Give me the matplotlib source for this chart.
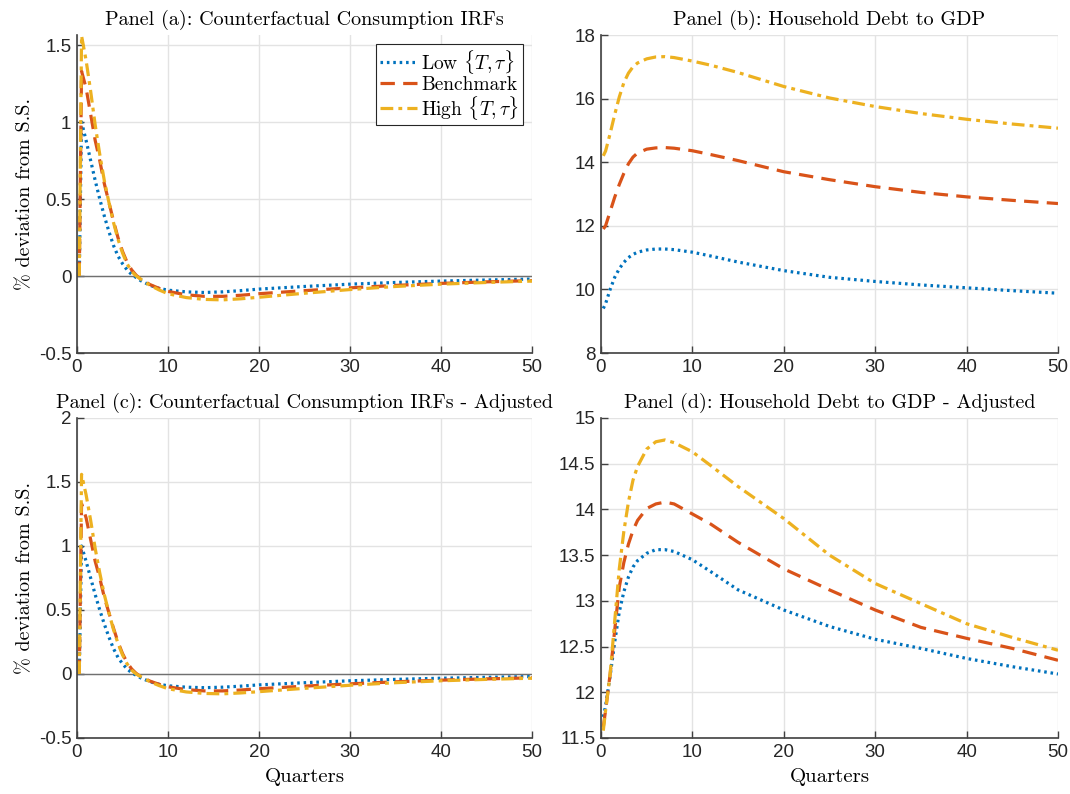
import matplotlib
matplotlib.use('Agg')
import matplotlib.pyplot as plt
import numpy as np

plt.rcParams['mathtext.fontset'] = 'cm'
plt.rcParams['axes.unicode_minus'] = False

# consumption IRFs (quarters after the shock)
q_irf = [0.25, 0.5, 1, 1.5, 2, 2.5, 3, 3.5, 4, 4.5, 5, 5.5, 6, 6.5, 7, 8, 9, 10,
         12, 14, 16, 18, 20, 25, 30, 35, 40, 45, 50]
irf_low = [0, 1.0, 0.88, 0.75, 0.62, 0.50, 0.39, 0.29, 0.20, 0.13, 0.08, 0.04, 0.01,
           -0.01, -0.03, -0.06, -0.08, -0.092, -0.103, -0.107, -0.103, -0.095, -0.085,
           -0.068, -0.053, -0.042, -0.033, -0.026, -0.02]
irf_bench = [0, 1.33, 1.22, 1.05, 0.88, 0.75, 0.60, 0.48, 0.36, 0.25, 0.16, 0.09, 0.04,
             0.005, -0.02, -0.055, -0.08, -0.10, -0.122, -0.132, -0.132, -0.125, -0.115,
             -0.095, -0.077, -0.061, -0.048, -0.038, -0.03]
irf_high = [0, 1.56, 1.40, 1.20, 0.98, 0.79, 0.62, 0.48, 0.35, 0.24, 0.15, 0.08, 0.03,
            0.0, -0.02, -0.06, -0.09, -0.115, -0.14, -0.152, -0.155, -0.148, -0.138,
            -0.112, -0.088, -0.068, -0.053, -0.042, -0.033]

# household debt to GDP
q_debt = [0.25, 0.5, 1, 1.5, 2, 2.5, 3, 3.5, 4, 5, 6, 7, 8, 10, 12, 15, 20, 25, 30,
          35, 40, 45, 50]
debt_low = [9.4, 9.55, 10.0, 10.38, 10.65, 10.85, 11.0, 11.1, 11.17, 11.24, 11.27,
            11.27, 11.25, 11.17, 11.05, 10.86, 10.59, 10.38, 10.25, 10.14, 10.05,
            9.96, 9.88]
debt_bench = [11.9, 12.0, 12.45, 12.9, 13.3, 13.65, 13.95, 14.16, 14.29, 14.41, 14.45,
              14.46, 14.44, 14.36, 14.24, 14.05, 13.70, 13.45, 13.23, 13.05, 12.91,
              12.80, 12.70]
debt_high = [14.2, 14.35, 14.9, 15.5, 16.05, 16.5, 16.8, 17.0, 17.12, 17.25, 17.31,
             17.32, 17.29, 17.18, 17.05, 16.82, 16.38, 16.02, 15.75, 15.53, 15.35,
             15.2, 15.07]

# adjusted household debt to GDP
adj_low = [11.73, 11.85, 12.18, 12.55, 12.88, 13.1, 13.26, 13.37, 13.44, 13.52, 13.56,
           13.56, 13.54, 13.45, 13.32, 13.12, 12.9, 12.72, 12.58, 12.48, 12.37, 12.28,
           12.2]
adj_bench = [11.62, 11.8, 12.2, 12.68, 13.15, 13.42, 13.62, 13.77, 13.88, 14.01, 14.06,
             14.08, 14.06, 13.95, 13.84, 13.64, 13.35, 13.12, 12.9, 12.71, 12.59, 12.48,
             12.35]
adj_high = [11.58, 11.8, 12.2, 12.78, 13.35, 13.76, 14.08, 14.32, 14.47, 14.66, 14.74,
            14.76, 14.73, 14.63, 14.48, 14.25, 13.9, 13.5, 13.19, 12.97, 12.75, 12.6,
            12.46]

labels = [r'Low $\{T,\tau\}$', 'Benchmark', r'High $\{T,\tau\}$']
colors = ['#0072BD', '#D95319', '#EDB120']
serif = 'cmr10'
sans = ['Liberation Sans', 'Arial', 'DejaVu Sans']

W, H = 1070, 794
fig = plt.figure(figsize=(W / 100, H / 100), dpi=100)
ax_a = fig.add_axes([77 / W, 1 - 353 / H, 455 / W, 318 / H])
ax_b = fig.add_axes([601 / W, 1 - 353 / H, 457 / W, 318 / H])
ax_c = fig.add_axes([77 / W, 1 - 738 / H, 455 / W, 320 / H])
ax_d = fig.add_axes([601 / W, 1 - 738 / H, 457 / W, 320 / H])


def draw_lines(ax, x, low, bench, high):
    lw = 2.3
    l1, = ax.plot(x, low, color=colors[0], lw=lw, linestyle=(0, (0.8, 1.2)))
    l2, = ax.plot(x, bench, color=colors[1], lw=lw, linestyle=(0, (4.5, 2.6)))
    l3, = ax.plot(x, high, color=colors[2], lw=lw, linestyle=(0, (4.0, 1.6, 1.2, 1.6)))
    return [l1, l2, l3]


def style(ax, title, ylim, yticks, ylabel=False, xlabel=False):
    ax.set_xlim(0, 50)
    ax.set_ylim(*ylim)
    ax.set_xticks(np.arange(0, 51, 10))
    ax.set_yticks(yticks)
    ax.set_yticklabels([('%g' % t) for t in yticks], family=sans)
    ax.set_xticklabels([('%g' % t) for t in range(0, 51, 10)], family=sans)
    ax.grid(True, color='#e3e3e3', lw=1.0)
    ax.set_axisbelow(True)
    for s in ['top', 'right']:
        ax.spines[s].set_visible(False)
    for s in ['left', 'bottom']:
        ax.spines[s].set_color('#404040')
        ax.spines[s].set_linewidth(1.2)
    ax.tick_params(direction='in', length=5, width=1.0, color='#404040',
                   labelsize=13.5, labelcolor='#262626', pad=4)
    ax.set_title(title, family=serif, fontsize=14.5, pad=7)
    if ylabel:
        ax.set_ylabel('% deviation from S.S.', family=serif, fontsize=14.5, labelpad=3)
    if xlabel:
        ax.set_xlabel('Quarters', family=serif, fontsize=15, labelpad=5)


# Panel (a)
ax_a.axhline(0, color='#707070', lw=1.0, zorder=1)
handles = draw_lines(ax_a, q_irf, irf_low, irf_bench, irf_high)
style(ax_a, 'Panel (a): Counterfactual Consumption IRFs', (-0.5, 1.565),
      [-0.5, 0, 0.5, 1, 1.5], ylabel=True)
leg = ax_a.legend(handles, labels, loc='upper right',
                  prop={'family': serif, 'size': 14}, fancybox=False,
                  edgecolor='#262626', framealpha=1, borderaxespad=0.45,
                  handlelength=1.9, handletextpad=0.2, labelspacing=0.0,
                  borderpad=0.2)
leg.get_frame().set_linewidth(0.8)

# Panel (b)
draw_lines(ax_b, q_debt, debt_low, debt_bench, debt_high)
style(ax_b, 'Panel (b): Household Debt to GDP', (8, 18), [8, 10, 12, 14, 16, 18])

# Panel (c)
ax_c.axhline(0, color='#707070', lw=1.0, zorder=1)
draw_lines(ax_c, q_irf, irf_low, irf_bench, irf_high)
style(ax_c, 'Panel (c): Counterfactual Consumption IRFs - Adjusted', (-0.5, 2),
      [-0.5, 0, 0.5, 1, 1.5, 2], ylabel=True, xlabel=True)

# Panel (d)
draw_lines(ax_d, q_debt, adj_low, adj_bench, adj_high)
style(ax_d, 'Panel (d): Household Debt to GDP - Adjusted', (11.5, 15),
      [11.5, 12, 12.5, 13, 13.5, 14, 14.5, 15], xlabel=True)

fig.savefig('out.png', dpi=100)
plt.close(fig)
